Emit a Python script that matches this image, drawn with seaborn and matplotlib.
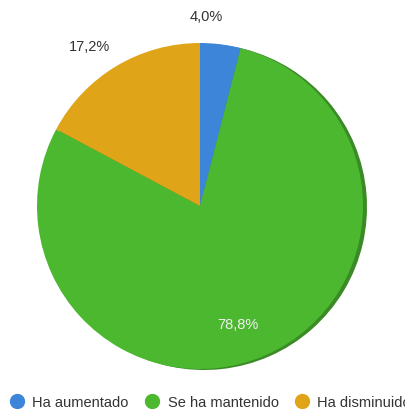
import matplotlib
matplotlib.use("Agg")
import matplotlib.pyplot as plt
import seaborn as sns
from matplotlib.lines import Line2D

sns.set_theme(style="white")
plt.rcParams['font.family'] = ['Liberation Sans', 'DejaVu Sans']

categories = ["Ha aumentado", "Se ha mantenido", "Ha disminuido"]
values = [4.0, 78.8, 17.2]
labels = ["4,0%", "78,8%", "17,2%"]

colors = ["#3d85d8", "#4cb830", "#e0a418"]
shadow = ["#2f6cb5", "#3a8a25", "#b88510"]

W, H = 406, 410
fig = plt.figure(figsize=(W / 100, H / 100), dpi=100)
ax = fig.add_axes([0, 0, 1, 1])

cx, cy, r = 200, 203, 163

# shadow edge
ax.pie(values, colors=shadow, startangle=90, counterclock=False,
       center=(cx + 4, cy - 1), radius=r, frame=True,
       wedgeprops=dict(linewidth=0))
wedges, _ = ax.pie(values, colors=colors, startangle=90, counterclock=False,
                   center=(cx, cy), radius=r, frame=True,
                   wedgeprops=dict(linewidth=0))
ax.set_xlim(0, W)
ax.set_ylim(0, H)
ax.set_aspect('equal')
ax.axis('off')

label_pos = [(206, 393), (238, 85), (90, 363)]
label_col = ["#333333", "#f2f2f2", "#333333"]
for lab, (x, y), c in zip(labels, label_pos, label_col):
    ax.text(x, y, lab, ha='center', va='center', fontsize=10.5, color=c)

handles = [Line2D([0], [0], marker='o', linestyle='', markersize=10,
                  markerfacecolor=col, markeredgecolor=col) for col in colors]
fig.legend(handles, categories, loc='center left', ncol=3,
           bbox_to_anchor=(0.01, 1 - 403 / H), frameon=False, fontsize=10.5,
           handletextpad=0.45, columnspacing=1.0, handlelength=1.2,
           borderaxespad=0, borderpad=0.3, labelcolor="#333333")

fig.savefig("out.png", dpi=100)
